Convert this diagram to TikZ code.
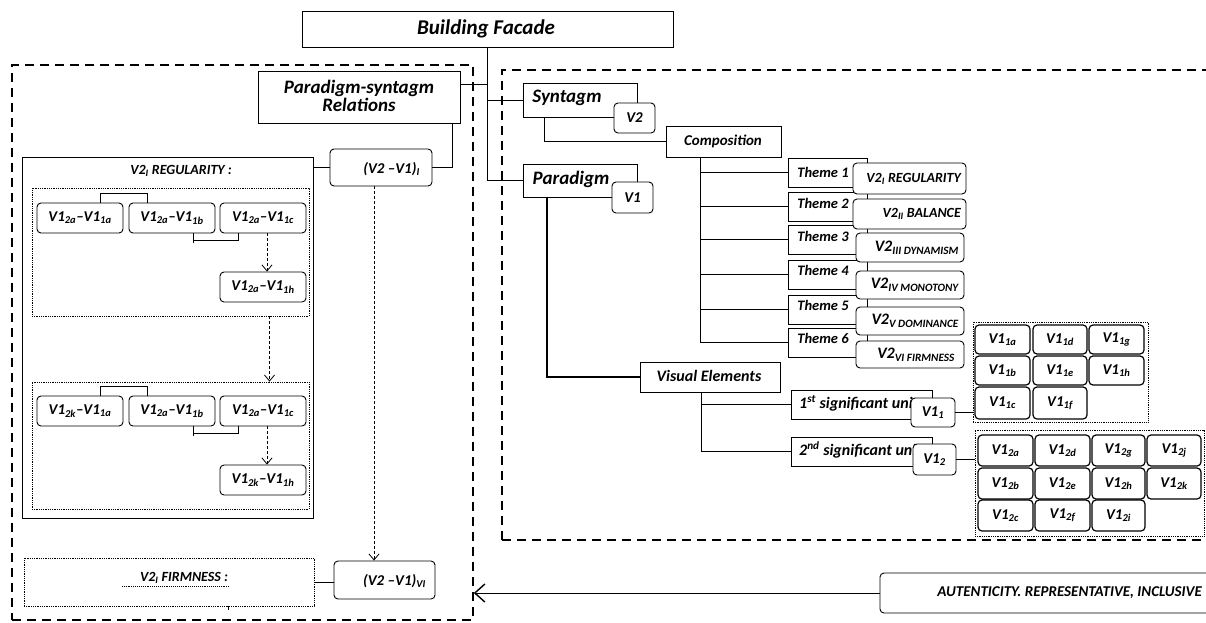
\documentclass[tikz,border=0pt]{standalone}
\usepackage{fontspec}
\setmainfont{Carlito}
\usetikzlibrary{arrows.meta,fit,calc}
\newcommand\fsz[1]{\fontsize{#1}{#1}\selectfont}
% box spanning two corners, given in pixel-like units (x right, y down)
\newcommand\bx[6][]{\node[#1, fit={(#3,#4) (#5,#6)}] (#2) {};}
\tikzset{
  txt/.style={inner sep=0pt, font=\bfseries\itshape\fsz{14}},
  frame/.style={draw, line width=0.9pt, inner sep=0pt},
  rframe/.style={frame, rounded corners=4pt, fill=white},
  cellbox/.style={draw, line width=1.2pt, rounded corners=4pt, inner sep=0pt},
  dotbox/.style={draw, densely dotted, line width=0.8pt, inner sep=0pt},
  bigdash/.style={draw, line width=1.6pt, dash pattern=on 9pt off 6pt, inner sep=0pt},
  link/.style={line width=0.9pt},
  dlink/.style={line width=0.8pt, dash pattern=on 3pt off 2pt,
    -{Straight Barb[length=6pt,width=10pt,line width=0.8pt]}},
  bigarrow/.style={line width=1pt,
    -{Straight Barb[length=10pt,width=18pt,line width=1.4pt]}},
}
\begin{document}
\begin{tikzpicture}[x=1pt,y=-1pt]
\useasboundingbox (0,0) rectangle (1206,622);

% ---- the two dashed groups ----
\bx[bigdash]{lframe}{12}{65}{473}{620}
\bx[bigdash]{rframe}{502}{70}{1214}{540}

% ---- top level ----
\bx[frame,fill=white]{facade}{302}{11}{673}{47}
\node[txt,font=\bfseries\itshape\fsz{21}] (facadet) at (486,29) {Building Facade};

\bx[frame,fill=white]{psr}{258}{71}{460}{123}
\node[txt,font=\bfseries\itshape\fontsize{19}{18}\selectfont,align=center] (psrt) at (359,96)
  {Paradigm-syntagm\\Relations};

% ---- syntagm / paradigm ----
\bx[frame]{syn}{523}{83}{637}{117}
\node[txt,font=\bfseries\itshape\fsz{19}] (synt) at (567,98) {Syntagm};
\bx[rframe]{vtwo}{614}{103}{655}{133}
\node[txt,font=\bfseries\itshape\fsz{15}] (vtwot) at (vtwo) {V2};

\bx[frame]{par}{523}{164}{637}{197}
\node[txt,font=\bfseries\itshape\fsz{19}] (part) at (571,179) {Paradigm};
\bx[rframe]{vone}{612}{182}{653}{213}
\node[txt,font=\bfseries\itshape\fsz{15}] (vonet) at (vone) {V1};

\bx[frame]{comp}{666}{126}{781}{157}
\node[txt,font=\bfseries\itshape\fsz{15}] (compt) at (723,141) {Composition};

% ---- themes ----
\foreach \i/\ya/\yb/\yt in {1/158/187/172, 2/192/221/203, 3/225/254/236,
                            4/260/289/270, 5/295/324/305, 6/328/357/338} {
  \bx[frame,fill=white]{t\i}{788}{\ya}{867}{\yb}
  \node[txt,font=\bfseries\itshape\fsz{14.5}] (tt\i) at (823,\yt) {Theme \i};
}

\bx[rframe]{wone}{853}{163}{966}{194}
\node[txt,anchor=east] (wonet) at (961,178.5) {V2\textsubscript{I} REGULARITY};
\bx[rframe]{wtwo}{853}{199}{966}{229}
\node[txt,anchor=east] (wtwot) at (961,214) {V2\textsubscript{II} BALANCE};
\bx[rframe]{wthree}{856}{233}{964}{262}
\node[txt,anchor=east,font=\bfseries\itshape\fsz{16}] (wthreet) at (959,248) {V2\textsubscript{III DYNAMISM}};
\bx[rframe]{wfour}{856}{271}{964}{299}
\node[txt,anchor=east,font=\bfseries\itshape\fsz{16}] (wfourt) at (959,285) {V2\textsubscript{IV MONOTONY}};
\bx[rframe]{wfive}{856}{307}{964}{335}
\node[txt,anchor=east,font=\bfseries\itshape\fsz{16}] (wfivet) at (959,321) {V2\textsubscript{V DOMINANCE}};
\bx[rframe]{wsix}{856}{341}{964}{368}
\node[txt,anchor=east,font=\bfseries\itshape\fsz{16}] (wsixt) at (955,355) {V2\textsubscript{VI FIRMNESS}};

% ---- visual elements ----
\bx[frame]{ve}{640}{362}{780}{392}
\node[txt,font=\bfseries\itshape\fsz{16}] (vet) at (709,376) {Visual Elements};

\bx[frame]{uone}{791}{390}{932}{419}
\node[txt,anchor=west,font=\bfseries\itshape\fsz{16}] (uonet) at (799,403) {1\textsuperscript{st} significant unit};
\bx[frame]{utwo}{791}{437}{932}{466}
\node[txt,anchor=west,font=\bfseries\itshape\fsz{16}] (utwot) at (799,450) {2\textsuperscript{nd} significant unit};
\bx[rframe]{vaa}{911}{398}{955}{427}
\node[txt,font=\bfseries\itshape\fsz{15}] (vaat) at (vaa) {V1\textsubscript{1}};
\bx[rframe]{vab}{913}{444}{956}{475}
\node[txt,font=\bfseries\itshape\fsz{15}] (vabt) at (vab) {V1\textsubscript{2}};

% ---- unit grids ----
\bx[dotbox]{gone}{973}{322}{1148}{422}
\foreach \n/\xa/\ya/\xb/\yb in {1a/975/325/1030/354, 1b/975/356/1030/385, 1c/975/387/1030/419,
                                1d/1033/325/1087/354, 1e/1033/356/1087/385, 1f/1033/387/1087/419,
                                1g/1089/325/1144/354, 1h/1089/356/1144/385} {
  \bx[cellbox]{c\n}{\xa}{\ya}{\xb}{\yb}
  \node[txt,font=\bfseries\itshape\fsz{15}] (t\n) at (c\n) {V1\textsubscript{\n}};
}
\bx[dotbox]{gtwo}{975}{430}{1204}{536}
\foreach \n/\xa/\ya/\xb/\yb in {2a/978/435/1033/466, 2b/978/468/1033/499, 2c/978/500/1033/531,
                                2d/1035/435/1090/466, 2e/1035/468/1090/499, 2f/1035/500/1090/531,
                                2g/1092/435/1145/466, 2h/1092/468/1145/499, 2i/1092/500/1145/531,
                                2j/1147/435/1201/466, 2k/1147/468/1201/499} {
  \bx[cellbox]{c\n}{\xa}{\ya}{\xb}{\yb}
  \node[txt,font=\bfseries\itshape\fsz{15}] (t\n) at (c\n) {V1\textsubscript{\n}};
}

% ---- left group: relations ----
\bx[frame,line width=0.8pt]{reg}{22}{157}{313}{518}
\node[txt] (regt) at (181,171) {V2\textsubscript{I} REGULARITY :};
\bx[rframe]{ri}{330}{149}{432}{186}
\node[txt,anchor=east,font=\bfseries\itshape\fsz{15}] (rit) at (420,169) {(V2 –V1)\textsubscript{I}};

\bx[dotbox]{inone}{32}{188}{309}{316}
\bx[rframe]{aa}{37}{203}{123}{233}
\node[txt,font=\bfseries\itshape\fsz{15}] (aat) at (aa) {V1\textsubscript{2a}–V1\textsubscript{1a}};
\bx[rframe]{ab}{129}{203}{215}{233}
\node[txt,font=\bfseries\itshape\fsz{15}] (abt) at (ab) {V1\textsubscript{2a}–V1\textsubscript{1b}};
\bx[rframe]{ac}{220}{203}{306}{233}
\node[txt,font=\bfseries\itshape\fsz{15}] (act) at (ac) {V1\textsubscript{2a}–V1\textsubscript{1c}};
\bx[rframe]{ad}{220}{272}{306}{302}
\node[txt,font=\bfseries\itshape\fsz{15}] (adt) at (ad) {V1\textsubscript{2a}–V1\textsubscript{1h}};

\bx[dotbox]{intwo}{32}{382}{309}{509}
\bx[rframe]{ba}{37}{396}{123}{426}
\node[txt,font=\bfseries\itshape\fsz{15}] (bat) at (ba) {V1\textsubscript{2k}–V1\textsubscript{1a}};
\bx[rframe]{bb}{129}{396}{215}{426}
\node[txt,font=\bfseries\itshape\fsz{15}] (bbt) at (bb) {V1\textsubscript{2a}–V1\textsubscript{1b}};
\bx[rframe]{bc}{220}{396}{306}{426}
\node[txt,font=\bfseries\itshape\fsz{15}] (bct) at (bc) {V1\textsubscript{2a}–V1\textsubscript{1c}};
\bx[rframe]{bd}{220}{465}{306}{495}
\node[txt,font=\bfseries\itshape\fsz{15}] (bdt) at (bd) {V1\textsubscript{2k}–V1\textsubscript{1h}};

\bx[rframe]{rvi}{334}{561}{435}{599}
\node[txt,anchor=east,font=\bfseries\itshape\fsz{15}] (rvit) at (426,581) {(V2 –V1)\textsubscript{VI}};
\bx[dotbox]{firm}{24}{558}{314}{606}
\node[txt] (firmt) at (184,578) {V2\textsubscript{I} FIRMNESS :};
\draw[densely dotted, line width=0.9pt] ($(firmt.south west)+(-18,3)$) -- ($(firmt.south east)+(1,3)$);
\draw[link] ($(firm.south)+(59,0)$) -- ++(0,4);

\bx[rframe]{auth}{880}{573}{1215}{613}
\node[txt,anchor=east,font=\bfseries\itshape\fsz{15}] (autht) at (1202,593) {AUTENTICITY. REPRESENTATIVE, INCLUSIVE};

% ---- connectors ----
\coordinate (jpsr) at (487,84);
\draw[link] (facade.south) |- (par.west);
\draw[link] (facade.south |- syn.west) -- (syn.west);
\draw[link] (psr.east |- jpsr) -- (jpsr);
\coordinate (psrb) at (452,123);
\draw[link] (psrb) |- (ri.east);
\draw[link] (ri.west) -- (ri.west -| reg.east);

\coordinate (synb) at (544,117);
\draw[link] (synb) |- (comp.west);
\coordinate (compb) at (700,157);
\draw[link] (compb) -- (compb |- t6.west);
\foreach \i in {1,...,6} { \draw[link] (compb |- t\i.west) -- (t\i.west); }

\coordinate (parb) at (547,197);
\draw[line width=1.3pt] (parb) |- (ve.west);
\coordinate (veb) at (701,392);
\draw[link] (veb) |- (utwo.west);
\draw[link] (veb |- uone.west) -- (uone.west);
\draw[link] (vaa.east) -- (vaa.east -| gone.west);
\draw[link] (vab.east) -- (vab.east -| gtwo.west);

% brackets between relation boxes
\draw[link] ($(aa.north)+(20,0)$) -- ++(0,-9) -| ($(ab.north)+(-25,0)$);
\draw[link] ($(ab.south)+(21,0)$) -- ++(0,10);
\draw[link] ($(ab.south)+(21,7)$) -| ($(ac.south)+(-25,0)$);
\draw[dlink] ($(ac.south)+(4,0)$) -- ($(ad.north)+(4,0)$);
\draw[link] ($(ba.north)+(20,0)$) -- ++(0,-9) -| ($(bb.north)+(-25,0)$);
\draw[link] ($(bb.south)+(21,0)$) -- ++(0,10);
\draw[link] ($(bb.south)+(21,7)$) -| ($(bc.south)+(-25,0)$);
\draw[dlink] ($(bc.south)+(4,0)$) -- ($(bd.north)+(4,0)$);
\draw[dlink] ($(inone.south)+(99,0)$) -- ($(intwo.north)+(99,0)$);
\draw[dlink] ($(ri.south)+(-7,0)$) -- ($(rvi.north)+(-10.5,0)$);
\draw[link] (firm.east) -- (firm.east -| rvi.west);
\draw[bigarrow] (auth.west) -- (auth.west -| lframe.east);
\end{tikzpicture}
\end{document}
